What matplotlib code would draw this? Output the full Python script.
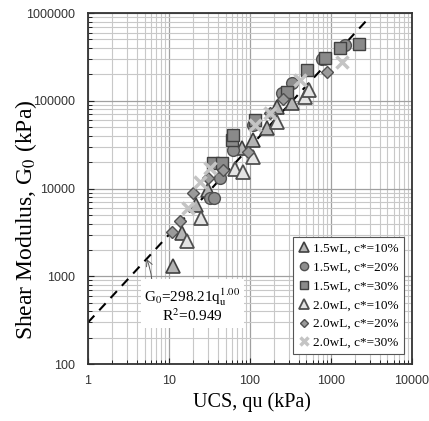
import matplotlib
matplotlib.use("Agg")
import matplotlib.pyplot as plt
from matplotlib.ticker import LogLocator, FuncFormatter, NullFormatter
import numpy as np

plt.rcParams['mathtext.fontset'] = 'stix'

# Measured points: UCS qu (kPa) vs shear modulus G0 (kPa)
qu_15_10 = [11.3, 14.6, 21.4, 30.6, 79, 110, 161, 214, 327]
g0_15_10 = [1310, 3100, 6490, 9620, 28700, 35700, 48500, 85500, 93500]

qu_15_20 = [32, 36, 42.6, 62.2, 110, 246, 327, 768, 1489]
g0_15_20 = [7730, 7900, 13100, 27500, 53000, 122000, 158000, 297000, 431000]

qu_15_30 = [35.2, 44.7, 59.5, 62.2, 115, 284, 501, 843, 1291, 2200]
g0_15_30 = [19400, 19400, 35700, 40700, 60400, 127000, 224000, 305000, 396000, 445000]

qu_20_10 = [16.5, 24.8, 66, 82.7, 110, 214, 478, 538]
g0_20_10 = [2540, 4570, 16600, 15500, 23000, 57700, 111000, 133000]

qu_20_20 = [10.8, 13.7, 20.0, 30.6, 46.7, 95.3, 177, 258, 885]
g0_20_20 = [3220, 4300, 8810, 13100, 16200, 26300, 71900, 106000, 211000]

qu_20_30 = [17.3, 24.1, 32.1, 115, 177, 412, 1355]
g0_20_30 = [5950, 12000, 17000, 53000, 71900, 172000, 279000]

# Power-law fit G0 = a * qu^b
fit_a = 298.21
fit_b = 1.00
fit_r2 = 0.949
fit_q = np.array([1, 2800])

fig, ax = plt.subplots(figsize=(4.29, 4.21), dpi=100)
fig.subplots_adjust(left=0.205, right=0.960, bottom=0.135, top=0.969)

ax.set_xscale('log')
ax.set_yscale('log')
ax.set_xlim(1, 10000)
ax.set_ylim(100, 1000000)

ax.set_axisbelow(True)
ax.xaxis.set_minor_locator(LogLocator(base=10, subs=np.arange(2, 10)))
ax.yaxis.set_minor_locator(LogLocator(base=10, subs=np.arange(2, 10)))
ax.grid(which='major', color='#a0a0a0', lw=0.9)
ax.grid(which='minor', color='#c8c8c8', lw=0.8)

ax.plot(fit_q, fit_a * fit_q ** fit_b, color='black', lw=1.5,
        dashes=(4.5, 3.5), zorder=2)

ax.plot(qu_15_10, g0_15_10, '^', ms=9.5, mfc='#b4b4b4', mec='#404040', mew=1.2,
        ls='none', label='1.5wL, c*=10%', zorder=3)
ax.plot(qu_15_20, g0_15_20, 'o', ms=8.5, mfc='#8e8e8e', mec='#505050', mew=1.0,
        ls='none', label='1.5wL, c*=20%', zorder=3)
ax.plot(qu_15_30, g0_15_30, 's', ms=8.5, mfc='#8a8a8a', mec='#404040', mew=1.0,
        ls='none', label='1.5wL, c*=30%', zorder=3)
ax.plot(qu_20_10, g0_20_10, '^', ms=9.5, mfc='#e4e4e4', mec='#505050', mew=1.3,
        ls='none', label='2.0wL, c*=10%', zorder=3)
ax.plot(qu_20_20, g0_20_20, 'D', ms=6.5, mfc='#9a9a9a', mec='#505050', mew=1.0,
        ls='none', label='2.0wL, c*=20%', zorder=3)
ax.plot(qu_20_30, g0_20_30, 'x', ms=9, color='#c4c4c4', mew=2.5,
        ls='none', label='2.0wL, c*=30%', zorder=3)

# Fit equation with leader arrow onto the trend line
ax.annotate('G$_0$=%.2fq$_{\\mathrm{u}}^{%.2f}$\nR$^2$=%.3f' % (fit_a, fit_b, fit_r2),
            xy=(5.3, fit_a * 5.3 ** fit_b), xytext=(19.5, 470),
            textcoords='data', ha='center', va='center', fontsize=11,
            family='Liberation Serif', linespacing=1.0,
            bbox=dict(boxstyle='square,pad=0.25', fc='white', ec='none'),
            arrowprops=dict(arrowstyle='->', color='#555555', lw=0.7,
                            relpos=(0.08, 1.0), connectionstyle='arc3,rad=0.1',
                            shrinkA=0, shrinkB=0),
            zorder=4)

fmt = FuncFormatter(lambda v, p: '%d' % v)
ax.xaxis.set_major_formatter(fmt)
ax.yaxis.set_major_formatter(fmt)
ax.xaxis.set_minor_formatter(NullFormatter())
ax.yaxis.set_minor_formatter(NullFormatter())
ax.tick_params(which='both', direction='in', colors='#222222', labelcolor='#333333',
               labelsize=9)
ax.tick_params(which='major', length=4, width=0.8, pad=9)
ax.tick_params(axis='x', which='major', pad=8)
ax.tick_params(which='minor', length=3, width=0.7)
for lab in ax.get_xticklabels() + ax.get_yticklabels():
    lab.set_family('Liberation Sans')

for sp in ax.spines.values():
    sp.set_color('#333333')
    sp.set_linewidth(1.3)

ax.set_xlabel('UCS, qu (kPa)', family='Liberation Serif', fontsize=14.5)
ax.set_ylabel('Shear Modulus, G$_0$ (kPa)', family='Liberation Serif', fontsize=17)
ax.xaxis.set_label_coords(0.505, -0.080)
ax.yaxis.set_label_coords(-0.152, 0.41)

leg = ax.legend(loc='lower right', bbox_to_anchor=(0.975, 0.028), borderaxespad=0,
                prop={'family': 'Liberation Serif', 'size': 9.5}, fancybox=False,
                framealpha=1, edgecolor='#555555', handlelength=0.8,
                handletextpad=0.3, labelspacing=0.5, borderpad=0.4,
                markerscale=0.7)
leg.get_frame().set_linewidth(0.8)

fig.savefig('out.png', dpi=100)
